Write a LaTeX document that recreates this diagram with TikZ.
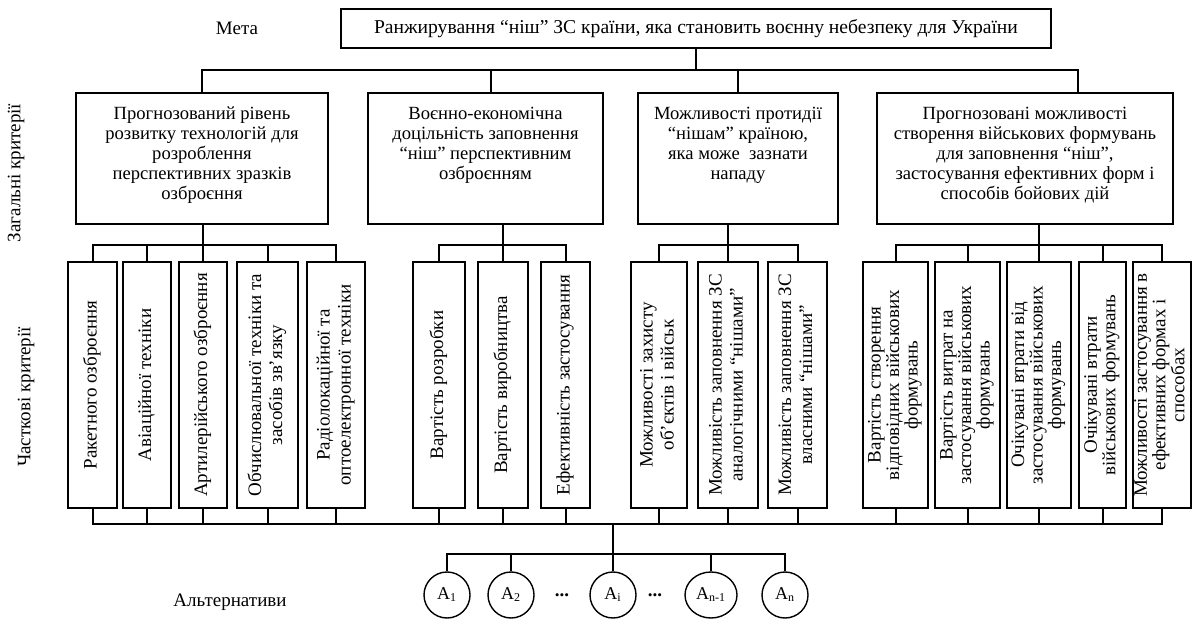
\documentclass[tikz,border=0pt]{standalone}
\usepackage{fontspec}
\setmainfont{Liberation Serif}
\usetikzlibrary{shapes.geometric}

\tikzset{
    gbox/.style={draw, line width=1.3pt, inner sep=3pt, font=\fontsize{9.3}{10}\selectfont},
    sbox/.style={draw, line width=1.3pt, inner sep=0pt, minimum height=123pt, font=\fontsize{9.5}{10.5}\selectfont},
    tbox/.style={sbox, font=\fontsize{9.5}{9}\selectfont},
    alt/.style={draw, ellipse, line width=0.7pt, inner sep=0pt, minimum width=23pt, minimum height=23pt, font=\fontsize{9}{10}\selectfont},
    link/.style={line width=1pt},
}
\newcommand{\vlabel}[1]{\rotatebox{90}{\begin{tabular}{@{}c@{}}#1\end{tabular}}}

\begin{document}
\begin{tikzpicture}[x=0.5pt, y=-0.5pt, font=\fontsize{9.5}{11}\selectfont]
    \useasboundingbox (0,0) rectangle (1192,619);

    % goal
    \node (meta) at (237,28) {Мета};
    \node[draw, line width=1.3pt, minimum width=355pt, minimum height=19.5pt, font=\fontsize{9.8}{11}\selectfont] (goal) at (696,28.5) {Ранжирування “ніш” ЗС країни, яка становить воєнну небезпеку для України};

    % side labels
    \node[rotate=90] (glabel) at (16,173) {Загальні критерії};
    \node[rotate=90] (plabel) at (26,397) {Часткові критерії};
    \node (altlabel) at (230,602) {Альтернативи};

    % general criteria
    \node[gbox, minimum width=126pt] (g1) at (202,158.5) {\parbox[t][59.5pt][t]{120pt}{\vspace*{4pt}\centering Прогнозований рівень\\розвитку технологій для\\розроблення\\перспективних зразків\\озброєння}};
    \node[gbox, minimum width=117.5pt] (g2) at (485.5,158.5) {\parbox[t][59.5pt][t]{111.5pt}{\vspace*{4pt}\centering Воєнно-економічна\\доцільність заповнення\\“ніш” перспективним\\озброєнням}};
    \node[gbox, minimum width=100pt] (g3) at (738,158.5) {\parbox[t][59.5pt][t]{94pt}{\vspace*{4pt}\centering Можливості протидії\\“нішам” країною,\\яка може\ \ зазнати\\нападу}};
    \node[gbox, minimum width=148pt] (g4) at (1025,158.5) {\parbox[t][59.5pt][t]{142pt}{\vspace*{4pt}\centering Прогнозовані можливості\\створення військових формувань\\для заповнення “ніш”,\\застосування ефективних форм і\\способів бойових дій}};

    % partial criteria
    \node[sbox, minimum width=24.5pt] (sa) at (92.5,385) {\vlabel{Ракетного озброєння}};
    \node[sbox, minimum width=24pt] (sb) at (147,385) {\vlabel{Авіаційної техніки}};
    \node[sbox, minimum width=24pt] (sc) at (203,385) {\vlabel{Артилерійського озброєння}};
    \node[sbox, minimum width=30.5pt] (sd) at (267.5,385) {\vlabel{Обчислювальної техніки та\\засобів зв’язку}};
    \node[sbox, minimum width=29pt] (se) at (336,385) {\vlabel{Радіолокаційної та\\оптоелектронної техніки}};

    \node[sbox, minimum width=26pt] (sf) at (439,385) {\vlabel{Вартість розробки}};
    \node[sbox, minimum width=25pt] (sg) at (503,385) {\vlabel{Вартість виробництва}};
    \node[sbox, minimum width=24.5pt] (sh) at (565.5,385) {\vlabel{Ефективність застосування}};

    \node[sbox, minimum width=28pt] (si) at (659,385) {\vlabel{Можливості захисту\\об’єктів і військ}};
    \node[sbox, minimum width=30pt] (sj) at (728,385) {\vlabel{Можливість заповнення ЗС\\аналогічними “нішами”}};
    \node[sbox, minimum width=29.5pt] (sk) at (797.5,385) {\vlabel{Можливість заповнення ЗС\\власними “нішами”}};

    \node[tbox, minimum width=32.5pt] (sl) at (895.5,385) {\vlabel{Вартість створення\\відповідних військових\\формувань}};
    \node[tbox, minimum width=32.5pt] (sm) at (967.5,385) {\vlabel{Вартість витрат на\\застосування військових\\формувань}};
    \node[tbox, minimum width=32pt] (sn) at (1039,385) {\vlabel{Очікувані втрати від\\застосування військових\\формувань}};
    \node[tbox, minimum width=23.5pt] (so) at (1102.5,385) {\vlabel{Очікувані втрати\\військових формувань}};
    \node[tbox, minimum width=29pt] (sp) at (1162,385) {\vlabel{Можливості застосування в\\ефективних формах і\\способах}};

    % alternatives
    \node[alt] (a1) at (447,595) {A\textsubscript{1}};
    \node[alt] (a2) at (511,595) {A\textsubscript{2}};
    \node (dots1) at (562,595) {\textbf{...}};
    \node[alt] (ai) at (613,595) {A\textsubscript{i}};
    \node (dots2) at (655,595) {\textbf{...}};
    \node[alt, minimum width=26pt] (an1) at (711,595) {A\textsubscript{n-1}};
    \node[alt] (an) at (785,595) {A\textsubscript{n}};

    % goal to general criteria
    \coordinate (tophub) at (goal.south |- 0,70);
    \draw[link] (goal.south) -- (tophub);
    \draw[link] (g1.north) |- (tophub);
    \draw[link] ([xshift=2.75pt]g2.north) |- (tophub);
    \draw[link] (g3.north) |- (tophub);
    \draw[link] ([xshift=26.5pt]g4.north) |- (tophub);

    % general to partial criteria
    \coordinate (hub1) at (sc.north |- 0,245);
    \draw[link] (g1.south -| sc.north) -- (sc.north);
    \draw[link] (sa.north) |- (hub1) (sb.north) |- (hub1) (sd.north) |- (hub1) (se.north) |- (hub1);

    \coordinate (hub2) at (sg.north |- 0,245);
    \draw[link] (g2.south -| sg.north) -- (sg.north);
    \draw[link] (sf.north) |- (hub2) (sh.north) |- (hub2);

    \coordinate (hub3) at (sj.north |- 0,245);
    \draw[link] (g3.south -| sj.north) -- (sj.north);
    \draw[link] (si.north) |- (hub3) (sk.north) |- (hub3);

    \coordinate (hub4) at (sn.north |- 0,245);
    \draw[link] (g4.south -| sn.north) -- (sn.north);
    \draw[link] (sl.north) |- (hub4) (sm.north) |- (hub4) (so.north) |- (hub4) (sp.north) |- (hub4);

    % partial criteria to alternatives
    \coordinate (lowhub) at (ai.north |- 0,524);
    \draw[link] (sa.south) |- (lowhub) (sb.south) |- (lowhub) (sc.south) |- (lowhub) (sd.south) |- (lowhub) (se.south) |- (lowhub)
        (sf.south) |- (lowhub) (sg.south) |- (lowhub) (sh.south) |- (lowhub)
        (si.south) |- (lowhub) (sj.south) |- (lowhub) (sk.south) |- (lowhub)
        (sl.south) |- (lowhub) (sm.south) |- (lowhub) (sn.south) |- (lowhub) (so.south) |- (lowhub) (sp.south) |- (lowhub);
    \draw[link] (lowhub) -- (ai.north);

    \coordinate (althub) at (ai.north |- 0,554);
    \draw[link] (a1.north) |- (althub) (a2.north) |- (althub) (an1.north) |- (althub) (an.north) |- (althub);

\end{tikzpicture}
\end{document}
